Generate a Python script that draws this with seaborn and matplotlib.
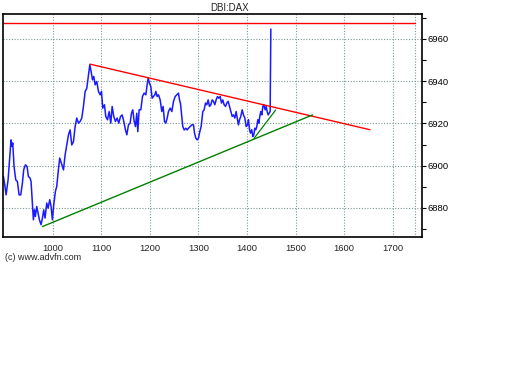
import matplotlib
matplotlib.use("Agg")
import matplotlib.pyplot as plt
from matplotlib.ticker import MultipleLocator
import pandas as pd
import seaborn as sns

sns.set_style('white')
plt.rcParams['font.family'] = ['Liberation Sans', 'DejaVu Sans']

# price trace (time index, price)
times = [898.7, 901.4, 904.2, 908.3, 912.4, 914.4, 916.5, 917.9, 920.6, 924.1,
         927.5, 930.9, 934.4, 937.8, 940.5, 944.0, 947.4, 950.1, 953.6, 955.6,
         958.4, 960.4, 962.5, 964.5, 967.3, 970.0, 972.8, 976.2, 979.0, 981.7,
         984.4, 987.9, 990.6, 994.1, 996.8, 999.5, 1002.3, 1005.7, 1008.5, 1011.9,
         1014.6, 1018.9, 1022.3, 1025.7, 1029.1, 1032.6, 1036.0, 1039.4, 1042.9, 1046.3,
         1049.7, 1053.1, 1056.6, 1060.0, 1063.4, 1066.9, 1070.3, 1073.7, 1076.5, 1079.2,
         1082.0, 1084.7, 1087.5, 1090.9, 1094.3, 1097.8, 1100.5, 1103.2, 1106.7, 1109.4,
         1112.9, 1116.3, 1119.7, 1122.5, 1125.9, 1129.3, 1132.8, 1136.2, 1139.6, 1143.1,
         1146.5, 1149.9, 1152.7, 1156.1, 1159.5, 1162.3, 1165.0, 1167.8, 1170.5, 1173.2,
         1175.3, 1178.0, 1181.5, 1184.9, 1188.3, 1191.8, 1194.5, 1196.6, 1199.3, 1202.1,
         1204.8, 1207.5, 1210.3, 1212.4, 1215.1, 1217.9, 1221.3, 1224.7, 1227.4, 1230.2,
         1232.9, 1235.7, 1238.4, 1241.9, 1245.3, 1248.7, 1252.2, 1255.6, 1259.0, 1261.1,
         1263.1, 1265.9, 1267.9, 1270.7, 1274.1, 1276.9, 1279.6, 1283.0, 1286.5, 1289.9,
         1292.0, 1294.7, 1297.5, 1300.2, 1302.9, 1305.7, 1309.1, 1311.8, 1314.6, 1317.3,
         1320.1, 1322.8, 1325.6, 1328.3, 1331.1, 1333.8, 1336.5, 1339.3, 1342.0, 1344.8,
         1347.5, 1350.3, 1353.0, 1355.8, 1358.5, 1361.3, 1364.0, 1366.7, 1369.5, 1372.2,
         1375.0, 1377.7, 1380.5, 1382.5, 1384.6, 1387.3, 1390.1, 1392.8, 1395.6, 1398.3,
         1401.1, 1403.1, 1405.2, 1407.2, 1409.8, 1412.0, 1414.1, 1416.2, 1418.2, 1420.3,
         1422.3, 1424.4, 1426.4, 1428.5, 1430.6, 1432.6, 1434.7, 1437.4, 1439.5, 1441.5,
         1443.6, 1445.7, 1447.7, 1449.1]
prices = [6894.9, 6891.0, 6886.2, 6893.3, 6905.9, 6912.2, 6909.1, 6910.7, 6899.6, 6893.3,
          6892.5, 6886.2, 6886.2, 6891.8, 6898.1, 6900.4, 6899.6, 6894.9, 6894.1, 6892.5,
          6882.3, 6874.4, 6879.1, 6876.0, 6880.7, 6877.6, 6874.4, 6872.1, 6875.2, 6879.1,
          6875.2, 6882.3, 6879.9, 6883.9, 6880.7, 6874.4, 6881.5, 6887.8, 6890.2, 6898.1,
          6903.6, 6900.5, 6898.0, 6905.1, 6909.8, 6914.6, 6916.9, 6909.8, 6911.4, 6918.5,
          6922.5, 6920.1, 6920.9, 6922.5, 6928.0, 6935.1, 6936.6, 6942.9, 6947.7, 6944.5,
          6940.6, 6942.2, 6938.2, 6939.8, 6935.1, 6933.5, 6935.1, 6927.2, 6928.8, 6923.2,
          6921.7, 6925.6, 6920.1, 6928.0, 6923.2, 6920.9, 6922.5, 6920.1, 6923.2, 6924.0,
          6920.9, 6916.9, 6914.6, 6919.3, 6920.1, 6924.8, 6926.4, 6920.9, 6918.5, 6924.8,
          6916.1, 6926.4, 6926.4, 6932.7, 6934.3, 6933.5, 6938.2, 6941.4, 6939.0, 6937.4,
          6931.9, 6932.7, 6933.5, 6935.1, 6932.7, 6933.5, 6931.1, 6925.6, 6928.0, 6920.9,
          6920.1, 6922.4, 6925.6, 6927.2, 6925.6, 6930.3, 6932.7, 6933.5, 6934.3, 6931.1,
          6929.5, 6923.2, 6918.5, 6916.9, 6917.7, 6916.9, 6917.7, 6918.5, 6919.3, 6919.3,
          6915.4, 6913.0, 6912.2, 6913.0, 6916.1, 6918.5, 6925.6, 6926.4, 6929.6, 6928.8,
          6931.1, 6928.0, 6928.8, 6931.1, 6930.4, 6928.8, 6931.1, 6932.7, 6931.9, 6932.7,
          6929.6, 6931.1, 6928.8, 6928.0, 6929.6, 6930.4, 6928.0, 6925.6, 6923.3, 6924.0,
          6922.5, 6925.6, 6921.7, 6919.3, 6921.7, 6923.3, 6926.4, 6924.0, 6922.5, 6918.5,
          6919.3, 6921.7, 6917.0, 6915.4, 6917.0, 6913.8, 6914.6, 6917.7, 6917.0, 6918.5,
          6921.7, 6920.1, 6923.3, 6925.6, 6924.0, 6928.0, 6928.8, 6926.4, 6928.0, 6925.6,
          6924.0, 6924.8, 6925.6, 6964.6]

# trend lines (start, end)
resist_x = [1077, 1653]
resist_y = [6948.0, 6917.0]
support_x = [979, 1535]
support_y = [6871.2, 6924.0]
support2_x = [1414.5, 1459]
support2_y = [6912.9, 6926.3]
level_x = [898, 1745]
level_y = [6967.4, 6967.4]

x_ticks = [1000, 1100, 1200, 1300, 1400, 1500, 1600, 1700]
y_ticks = [6880, 6900, 6920, 6940, 6960]

df = pd.DataFrame({'t': times, 'price': prices})

fig = plt.figure(figsize=(5.12, 3.84), dpi=100)
ax = fig.add_axes([0.006, 0.383, 0.818, 0.581])

# grid
for xv in x_ticks + [1745]:
    ax.axvline(xv, color='#7a9a9a', lw=0.8, ls=(0, (1, 1.5)), zorder=0)
for yv in y_ticks:
    ax.axhline(yv, color='#7a9a9a', lw=0.8, ls=(0, (1, 1.5)), zorder=0)

sns.lineplot(data=df, x='t', y='price', ax=ax, color='#1a1aff', lw=1.1,
             sort=False, estimator=None)
ax.plot(level_x, level_y, color='#ff0000', lw=1)
ax.plot(resist_x, resist_y, color='#ff0000', lw=1)
ax.plot(support_x, support_y, color='#008000', lw=1)
ax.plot(support2_x, support2_y, color='#008000', lw=0.9)

ax.set_xlim(898, 1760)
ax.set_ylim(6866.3, 6971.8)
ax.set_xticks(x_ticks)
ax.set_yticks(y_ticks)
ax.yaxis.set_minor_locator(MultipleLocator(10))
ax.yaxis.tick_right()
ax.tick_params(axis='y', which='both', right=True, left=False, direction='out',
               length=3, width=0.8, labelsize=6.8, pad=1, colors='black')
ax.tick_params(axis='x', bottom=False, labelsize=6.8, pad=1.5)
ax.set_xlabel('')
ax.set_ylabel('')
for s in ax.spines.values():
    s.set_color('black')
    s.set_linewidth(1.2)

fig.text(230 / 512, 1 - 8 / 384, 'DBI:DAX', ha='center', va='center', fontsize=7)
fig.text(5 / 512, 1 - 258 / 384, '(c) www.advfn.com', ha='left', va='center', fontsize=6.5)

fig.savefig('out.png', dpi=100)
